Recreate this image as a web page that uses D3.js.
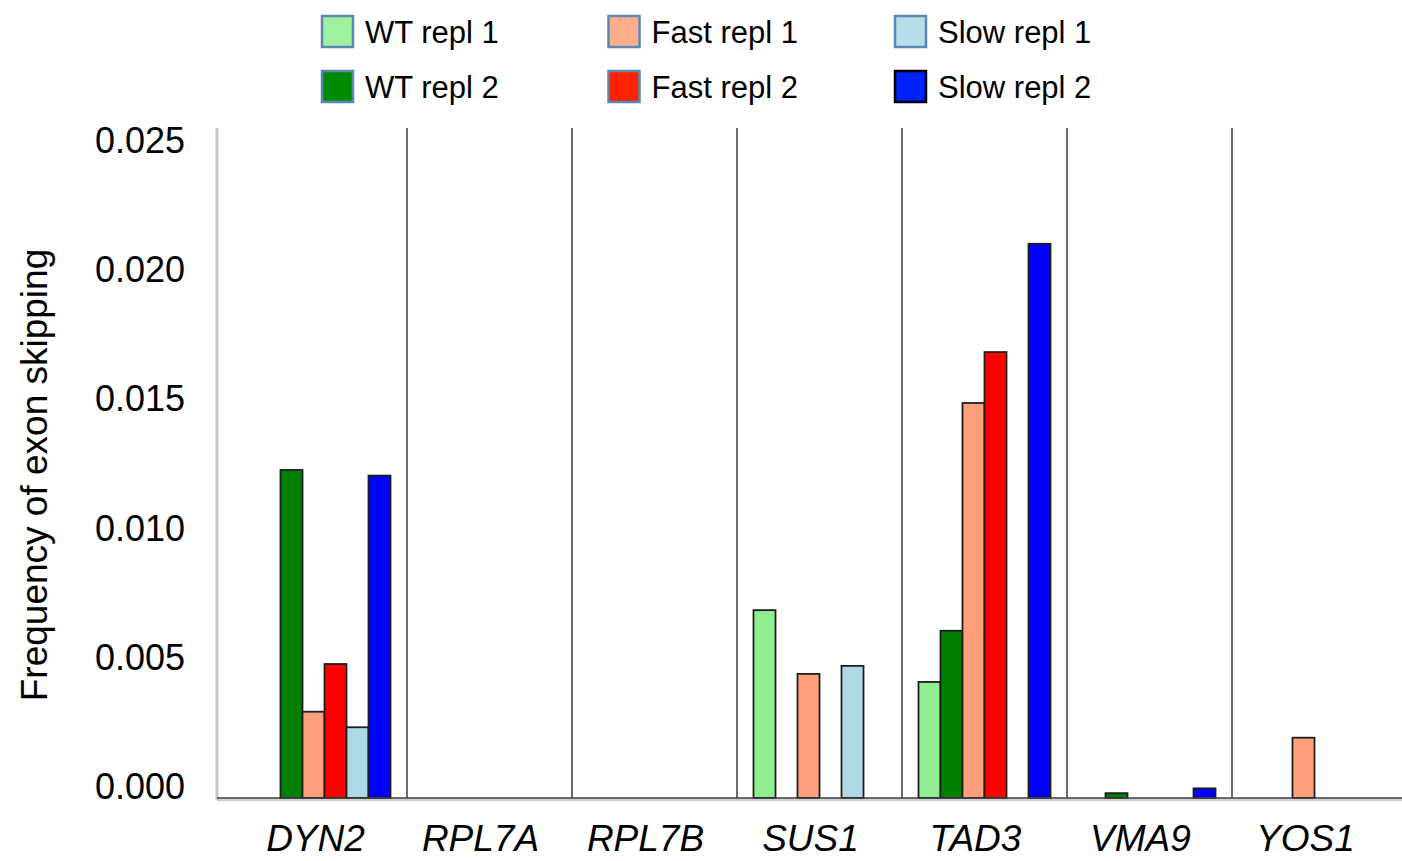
<!DOCTYPE html>
<html>
<head>
<meta charset="utf-8">
<script src="https://cdn.jsdelivr.net/npm/d3@7"></script>
<style>
  body { margin: 0; background: #fff; }
  text { font-family: "Liberation Sans", Arial, sans-serif; fill: #000; }
</style>
</head>
<body>
<script>
// data
var genes = ["DYN2", "RPL7A", "RPL7B", "SUS1", "TAD3", "VMA9", "YOS1"];
var seriesNames = ["WT repl 1", "WT repl 2", "Fast repl 1", "Fast repl 2", "Slow repl 1", "Slow repl 2"];
var seriesColors = ["#90ee90", "#008000", "#ffa07a", "#ff0000", "#add8e6", "#0000ff"];
var legendColors = ["#9ff09f", "#008a00", "#ffae8a", "#ff2200", "#b6dde8", "#0022ff"];

var wt1   = [0,       0, 0, 0.00701, 0.00433, 0,       0];
var wt2   = [0.01224, 0, 0, 0,       0.00624, 0.00018, 0];
var fast1 = [0.00322, 0, 0, 0.00463, 0.01474, 0,       0.00225];
var fast2 = [0.00500, 0, 0, 0,       0.01664, 0,       0];
var slow1 = [0.00264, 0, 0, 0.00493, 0,       0,       0];
var slow2 = [0.01203, 0, 0, 0,       0.02068, 0.00036, 0];

var yTicks = [0, 0.005, 0.010, 0.015, 0.020, 0.025];

var series = [wt1, wt2, fast1, fast2, slow1, slow2];

var W = 1402, H = 861;
// note: "top" is taken by window.top, so use plotTop
var axisX = 217, bandStart = 242, bandEnd = 1397, plotTop = 128, plotBottom = 798;

var svg = d3.select("body").append("svg")
  .attr("width", W).attr("height", H);

var x = d3.scaleBand().domain(genes).range([bandStart, bandEnd]).paddingInner(0).paddingOuter(0);
var inner = d3.scaleBand().domain(d3.range(seriesNames.length))
  .range([0, x.bandwidth()]).paddingOuter(0.75).paddingInner(0);
var y = d3.scaleLinear().domain([0, 0.025]).range([plotBottom, plotTop]);
// the tick labels sit a little off the bar scale in the reference
var yLab = d3.scaleLinear().domain([0, 0.025]).range([786, 140]);

// left axis line (light gray)
svg.append("line")
  .attr("x1", axisX).attr("x2", axisX).attr("y1", plotTop).attr("y2", plotBottom + 2)
  .attr("stroke", "#c8c8c8").attr("stroke-width", 3);

// group separators
svg.selectAll(".sep").data(genes.slice(1)).enter().append("line")
  .attr("class", "sep")
  .attr("x1", function(d) { return x(d); }).attr("x2", function(d) { return x(d); })
  .attr("y1", plotTop).attr("y2", plotBottom)
  .attr("stroke", "#3a3a3a").attr("stroke-width", 1.5);

// bars
var groups = svg.selectAll(".grp").data(genes).enter().append("g")
  .attr("class", "grp")
  .attr("transform", function(d) { return "translate(" + x(d) + ",0)"; });

groups.selectAll("rect")
  .data(function(d, gi) {
    return series.map(function(s, si) { return { s: si, v: s[gi] }; })
      .filter(function(e) { return e.v > 0; });
  })
  .enter().append("rect")
  .attr("x", function(d) { return inner(d.s); })
  .attr("width", inner.bandwidth())
  .attr("y", function(d) { return y(d.v); })
  .attr("height", function(d) { return plotBottom - y(d.v); })
  .attr("fill", function(d) { return seriesColors[d.s]; })
  .attr("stroke", "#1e1e1e").attr("stroke-width", 1.8);

// baseline with soft shadow
svg.append("line")
  .attr("x1", axisX).attr("x2", W).attr("y1", plotBottom + 2).attr("y2", plotBottom + 2)
  .attr("stroke", "#cfcfcf").attr("stroke-width", 2.5);
svg.append("line")
  .attr("x1", axisX).attr("x2", W).attr("y1", plotBottom).attr("y2", plotBottom)
  .attr("stroke", "#3a3a3a").attr("stroke-width", 1.5);

// y tick labels
svg.selectAll(".ytick").data(yTicks).enter().append("text")
  .attr("class", "ytick")
  .attr("x", 185)
  .attr("y", function(d) { return yLab(d); })
  .attr("dy", "0.36em")
  .attr("text-anchor", "end")
  .style("font-size", "36px")
  .text(d3.format(".3f"));

// gene labels
svg.selectAll(".xlab").data(genes).enter().append("text")
  .attr("class", "xlab")
  .attr("x", function(d) { return x(d) + x.bandwidth() / 2 - 9; })
  .attr("y", 851)
  .attr("text-anchor", "middle")
  .style("font-size", "37px")
  .style("font-style", "italic")
  .text(function(d) { return d; });

// y title
svg.append("text")
  .attr("transform", "translate(47,475) rotate(-90)")
  .attr("text-anchor", "middle")
  .style("font-size", "37px")
  .text("Frequency of exon skipping");

// legend: 3 columns x 2 rows
var legend = svg.selectAll(".leg").data(seriesNames).enter().append("g")
  .attr("class", "leg")
  .attr("transform", function(d, i) {
    var col = Math.floor(i / 2), row = i % 2;
    return "translate(" + (322 + col * 286.5) + "," + (16 + row * 55) + ")";
  });
legend.append("rect")
  .attr("width", 31).attr("height", 31)
  .attr("fill", function(d, i) { return legendColors[i]; })
  .attr("stroke", function(d, i) { return i === 5 ? "#000" : "#5b88b3"; })
  .attr("stroke-width", 2.5);
legend.append("text")
  .attr("x", 43).attr("y", 16).attr("dy", "0.36em")
  .style("font-size", "31px")
  .text(function(d) { return d; });
</script>
</body>
</html>
